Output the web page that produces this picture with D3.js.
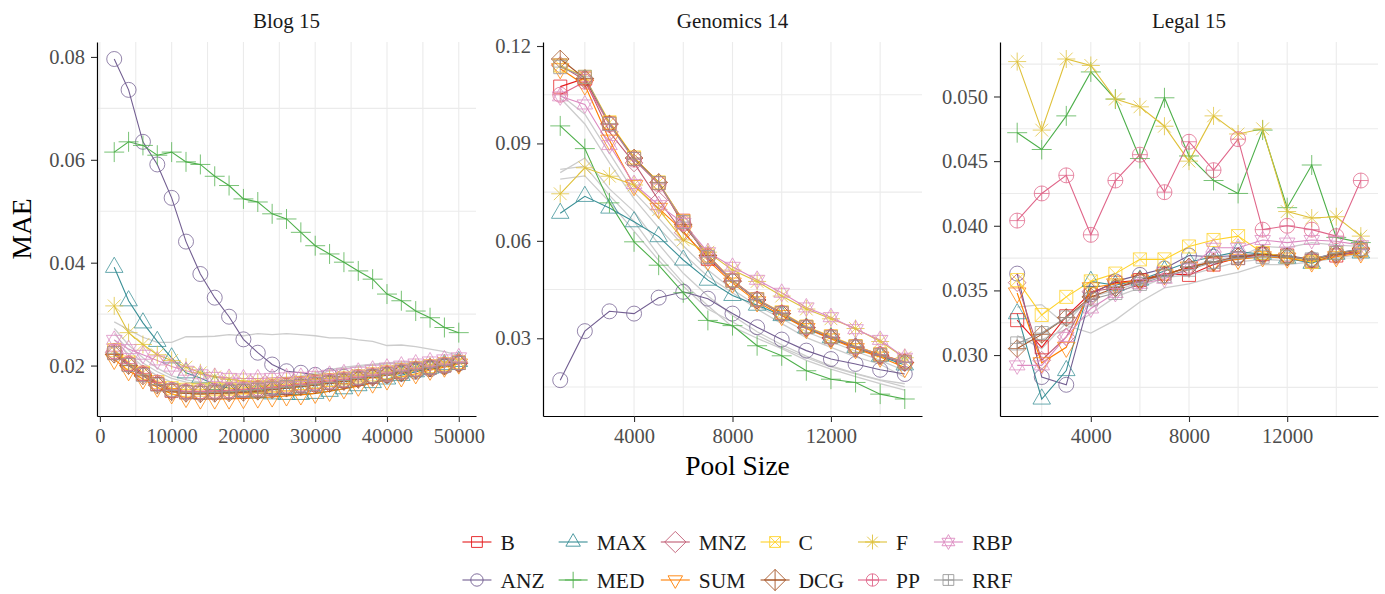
<!DOCTYPE html>
<html>
<head>
<meta charset="utf-8">
<script src="https://cdn.jsdelivr.net/npm/d3@7/dist/d3.min.js"></script>
<style>
  body { margin: 0; background: #fff; }
  text { font-family: "Liberation Serif", "DejaVu Serif", serif; }
</style>
</head>
<body>
<svg id="chart" width="1385" height="594"></svg>
<script>
// methods, in legend order (column-wise fill)
var methods = ["B", "ANZ", "MAX", "MED", "MNZ", "SUM", "C", "DCG", "F", "PP", "RBP", "RRF"];
var methodColors = ["#e41a1c", "#725e91", "#3a8f96", "#4daf4a", "#bf5b74", "#ff7f00",
                    "#ffd22a", "#a65628", "#dfc13a", "#e0668a", "#dc8bc1", "#999999"];
var methodShapes = ["square", "circle", "triUp", "plus", "diamond", "triDown",
                    "squareX", "diamondPlus", "asterisk", "circlePlus", "star", "squarePlus"];

/* ---- Blog 15 ---- */
var blogPool = [2000, 4000, 6000, 8000, 10000, 12000, 14000, 16000, 18000, 20000, 22000, 24000, 26000,
                28000, 30000, 32000, 34000, 36000, 38000, 40000, 42000, 44000, 46000, 48000, 50000];
var blogB   = [0.0225,0.0202,0.0183,0.0164,0.0151,0.0148,0.0147,0.0148,0.0149,0.0150,0.0152,0.0154,0.0157,0.0160,0.0163,0.0166,0.0170,0.0174,0.0178,0.0183,0.0187,0.0192,0.0196,0.0200,0.0205];
var blogANZ = [0.0796,0.0736,0.0635,0.0591,0.0526,0.0441,0.0378,0.0332,0.0295,0.0251,0.0225,0.0202,0.0189,0.0186,0.0182,0.0180,0.0178,0.0178,0.0179,0.0181,0.0184,0.0188,0.0193,0.0198,0.0204];
var blogMAX = [0.0391,0.0326,0.0283,0.0247,0.0215,0.0186,0.0176,0.0163,0.0156,0.0150,0.0147,0.0145,0.0144,0.0144,0.0146,0.0150,0.0155,0.0161,0.0167,0.0174,0.0181,0.0188,0.0195,0.0202,0.0208];
var blogMED = [0.0615,0.0635,0.0628,0.0609,0.0615,0.0596,0.0591,0.0568,0.0550,0.0524,0.0518,0.0495,0.0485,0.0459,0.0433,0.0417,0.0401,0.0384,0.0368,0.0339,0.0326,0.0306,0.0293,0.0274,0.0264];
var blogMNZ = [0.0226,0.0203,0.0184,0.0165,0.0152,0.0149,0.0148,0.0149,0.0150,0.0152,0.0154,0.0156,0.0159,0.0162,0.0165,0.0168,0.0171,0.0175,0.0179,0.0184,0.0188,0.0193,0.0197,0.0201,0.0206];
var blogSUM = [0.0212,0.0190,0.0174,0.0158,0.0145,0.0138,0.0135,0.0135,0.0135,0.0136,0.0137,0.0139,0.0141,0.0143,0.0146,0.0150,0.0155,0.0160,0.0166,0.0172,0.0178,0.0184,0.0191,0.0197,0.0203];
var blogC   = [0.0230,0.0206,0.0186,0.0168,0.0156,0.0153,0.0153,0.0154,0.0155,0.0157,0.0159,0.0161,0.0163,0.0166,0.0169,0.0172,0.0175,0.0179,0.0183,0.0187,0.0191,0.0195,0.0199,0.0203,0.0207];
var blogDCG = [0.0222,0.0200,0.0180,0.0162,0.0149,0.0146,0.0145,0.0146,0.0147,0.0148,0.0150,0.0153,0.0156,0.0159,0.0162,0.0165,0.0169,0.0173,0.0177,0.0182,0.0186,0.0191,0.0195,0.0199,0.0204];
var blogF   = [0.0316,0.0264,0.0241,0.0221,0.0210,0.0197,0.0186,0.0178,0.0173,0.0170,0.0168,0.0168,0.0169,0.0171,0.0173,0.0175,0.0178,0.0181,0.0185,0.0189,0.0192,0.0196,0.0200,0.0204,0.0208];
var blogPP  = [0.0228,0.0204,0.0185,0.0167,0.0153,0.0150,0.0150,0.0151,0.0152,0.0154,0.0156,0.0158,0.0161,0.0164,0.0167,0.0170,0.0173,0.0177,0.0181,0.0185,0.0189,0.0193,0.0197,0.0201,0.0206];
var blogRBP = [0.0250,0.0232,0.0221,0.0210,0.0198,0.0190,0.0183,0.0178,0.0176,0.0175,0.0175,0.0176,0.0177,0.0178,0.0180,0.0182,0.0185,0.0188,0.0192,0.0196,0.0200,0.0204,0.0208,0.0212,0.0216];
var blogRRF = [0.0224,0.0201,0.0182,0.0163,0.0152,0.0148,0.0147,0.0148,0.0149,0.0151,0.0153,0.0155,0.0158,0.0161,0.0164,0.0167,0.0171,0.0175,0.0179,0.0183,0.0188,0.0192,0.0196,0.0200,0.0205];
// unlabelled grey runs
var blogGray1 = [0.0285,0.0270,0.0255,0.0245,0.0245,0.0256,0.0256,0.0257,0.0260,0.0258,0.0262,0.0260,0.0262,0.0260,0.0258,0.0254,0.0254,0.0250,0.0247,0.0239,0.0240,0.0237,0.0232,0.0227,0.0220];
var blogGray2 = [0.0272,0.0240,0.0215,0.0195,0.0180,0.0172,0.0168,0.0166,0.0166,0.0167,0.0169,0.0172,0.0175,0.0180,0.0186,0.0192,0.0197,0.0200,0.0203,0.0205,0.0207,0.0208,0.0209,0.0210,0.0211];
var blogGray3 = [0.0262,0.0230,0.0205,0.0188,0.0175,0.0168,0.0164,0.0163,0.0163,0.0164,0.0166,0.0169,0.0172,0.0177,0.0183,0.0189,0.0194,0.0198,0.0201,0.0203,0.0205,0.0206,0.0207,0.0208,0.0209];
var blogGray4 = [0.0250,0.0222,0.0198,0.0180,0.0168,0.0162,0.0159,0.0158,0.0158,0.0159,0.0161,0.0163,0.0166,0.0169,0.0173,0.0176,0.0180,0.0184,0.0188,0.0192,0.0196,0.0199,0.0202,0.0205,0.0208];

/* ---- Genomics 14 ---- */
var genPool = [1000, 2000, 3000, 4000, 5000, 6000, 7000, 8000, 9000, 10000, 11000, 12000, 13000, 14000, 15000];
var genB   = [0.1075,0.1100,0.0962,0.0853,0.0778,0.0662,0.0545,0.0478,0.0420,0.0378,0.0335,0.0305,0.0275,0.0250,0.0228];
var genANZ = [0.0171,0.0322,0.0383,0.0376,0.0425,0.0443,0.0422,0.0376,0.0334,0.0296,0.0262,0.0236,0.0221,0.0203,0.0190];
var genMAX = [0.0685,0.0737,0.0701,0.0659,0.0613,0.0541,0.0479,0.0432,0.0402,0.0370,0.0332,0.0302,0.0272,0.0245,0.0218];
var genMED = [0.0954,0.0884,0.0717,0.0597,0.0525,0.0440,0.0355,0.0339,0.0277,0.0246,0.0200,0.0174,0.0164,0.0128,0.0113];
var genMNZ = [0.1140,0.1095,0.0935,0.0840,0.0725,0.0625,0.0548,0.0476,0.0418,0.0376,0.0332,0.0300,0.0270,0.0245,0.0225];
var genSUM = [0.1130,0.1080,0.0910,0.0770,0.0700,0.0630,0.0540,0.0470,0.0412,0.0370,0.0330,0.0298,0.0268,0.0242,0.0210];
var genC   = [0.1140,0.1105,0.0965,0.0857,0.0780,0.0660,0.0555,0.0478,0.0420,0.0380,0.0336,0.0306,0.0276,0.0250,0.0227];
var genDCG = [0.1160,0.1100,0.0960,0.0855,0.0780,0.0650,0.0555,0.0476,0.0418,0.0376,0.0333,0.0302,0.0273,0.0248,0.0226];
var genF   = [0.0745,0.0825,0.0799,0.0772,0.0696,0.0603,0.0565,0.0510,0.0475,0.0430,0.0390,0.0360,0.0330,0.0290,0.0240];
var genPP  = [0.1050,0.1090,0.0958,0.0850,0.0775,0.0655,0.0552,0.0478,0.0420,0.0378,0.0334,0.0304,0.0274,0.0249,0.0226];
var genRBP = [0.1045,0.1020,0.0895,0.0775,0.0710,0.0655,0.0565,0.0520,0.0480,0.0440,0.0395,0.0365,0.0328,0.0295,0.0240];
var genRRF = [0.1135,0.1105,0.0960,0.0852,0.0778,0.0658,0.0550,0.0477,0.0419,0.0377,0.0334,0.0303,0.0274,0.0248,0.0226];
var genGray1 = [0.0810,0.0855,0.0760,0.0690,0.0590,0.0500,0.0430,0.0370,0.0320,0.0280,0.0245,0.0215,0.0192,0.0172,0.0160];
var genGray2 = [0.0820,0.0830,0.0740,0.0660,0.0555,0.0470,0.0400,0.0335,0.0300,0.0268,0.0232,0.0205,0.0182,0.0160,0.0140];
var genGray3 = [0.0790,0.0800,0.0720,0.0630,0.0540,0.0460,0.0390,0.0350,0.0310,0.0272,0.0240,0.0212,0.0190,0.0170,0.0150];
var genGray4 = [0.1050,0.0990,0.0870,0.0750,0.0670,0.0585,0.0510,0.0450,0.0400,0.0360,0.0320,0.0290,0.0260,0.0232,0.0200];
var genGray5 = [0.1040,0.0960,0.0840,0.0730,0.0640,0.0560,0.0490,0.0440,0.0390,0.0345,0.0302,0.0272,0.0243,0.0220,0.0180];

/* ---- Legal 15 ---- */
var legalPool = [1000, 2000, 3000, 4000, 5000, 6000, 7000, 8000, 9000, 10000, 11000, 12000, 13000, 14000, 15000];
var legalB   = [0.0327,0.0306,0.0330,0.0348,0.0356,0.0358,0.0363,0.0362,0.0370,0.0375,0.0378,0.0377,0.0373,0.0377,0.0381];
var legalANZ = [0.0363,0.0283,0.0277,0.0347,0.0357,0.0362,0.0367,0.0377,0.0376,0.0377,0.0378,0.0377,0.0374,0.0379,0.0382];
var legalMAX = [0.0332,0.0266,0.0288,0.0357,0.0354,0.0358,0.0365,0.0372,0.0376,0.0380,0.0378,0.0375,0.0371,0.0378,0.0379];
var legalMED = [0.0472,0.0459,0.0485,0.0519,0.0498,0.0452,0.0499,0.0454,0.0435,0.0425,0.0474,0.0414,0.0447,0.0391,0.0387];
var legalMNZ = [0.0356,0.0296,0.0314,0.0349,0.0352,0.0357,0.0362,0.0368,0.0372,0.0376,0.0377,0.0376,0.0373,0.0377,0.0380];
var legalSUM = [0.0348,0.0294,0.0306,0.0352,0.0355,0.0358,0.0362,0.0368,0.0372,0.0374,0.0376,0.0375,0.0372,0.0376,0.0379];
var legalC   = [0.0358,0.0331,0.0345,0.0357,0.0363,0.0374,0.0374,0.0384,0.0389,0.0392,0.0379,0.0376,0.0372,0.0379,0.0381];
var legalDCG = [0.0305,0.0316,0.0329,0.0345,0.0352,0.0358,0.0362,0.0368,0.0372,0.0376,0.0378,0.0376,0.0374,0.0378,0.0382];
var legalF   = [0.0527,0.0474,0.0529,0.0524,0.0498,0.0492,0.0477,0.0450,0.0485,0.0471,0.0475,0.0411,0.0406,0.0407,0.0392];
var legalPP  = [0.0404,0.0425,0.0439,0.0393,0.0435,0.0455,0.0426,0.0465,0.0443,0.0467,0.0397,0.0400,0.0397,0.0392,0.0435];
var legalRBP = [0.0292,0.0292,0.0314,0.0336,0.0348,0.0355,0.0359,0.0367,0.0383,0.0383,0.0389,0.0387,0.0389,0.0388,0.0385];
var legalRRF = [0.0309,0.0317,0.0329,0.0343,0.0348,0.0355,0.0361,0.0366,0.0372,0.0375,0.0376,0.0376,0.0374,0.0379,0.0382];
var legalGray1 = [0.0337,0.0339,0.0323,0.0317,0.0327,0.0341,0.0352,0.0355,0.0360,0.0364,0.0370,0.0370,0.0372,0.0375,0.0378];
var legalGray2 = [0.0310,0.0312,0.0320,0.0332,0.0345,0.0352,0.0360,0.0362,0.0367,0.0372,0.0374,0.0373,0.0374,0.0377,0.0380];
var legalGray3 = [0.0315,0.0305,0.0325,0.0345,0.0350,0.0356,0.0362,0.0368,0.0374,0.0376,0.0384,0.0383,0.0387,0.0385,0.0384];

// tick values
var blogXTicks = [0, 10000, 20000, 30000, 40000, 50000];
var blogXMinor = [5000, 15000, 25000, 35000, 45000];
var blogYTicks = [0.02, 0.04, 0.06, 0.08];
var blogYMinor = [0.03, 0.05, 0.07];
var genXTicks = [4000, 8000, 12000];
var genXMinor = [2000, 6000, 10000, 14000];
var genYTicks = [0.03, 0.06, 0.09, 0.12];
var genYMinor = [0.015, 0.045, 0.075, 0.105];
var legalXTicks = [4000, 8000, 12000];
var legalXMinor = [2000, 6000, 10000, 14000];
var legalYTicks = [0.030, 0.035, 0.040, 0.045, 0.050];
var legalYMinor = [0.0275, 0.0325, 0.0375, 0.0425, 0.0475, 0.0525];

var panels = [
  { title: "Blog 15", pool: blogPool, left: 97, right: 476,
    series: [blogB, blogANZ, blogMAX, blogMED, blogMNZ, blogSUM, blogC, blogDCG, blogF, blogPP, blogRBP, blogRRF],
    gray: [blogGray1, blogGray2, blogGray3, blogGray4],
    xTicks: blogXTicks, xMinor: blogXMinor, yTicks: blogYTicks, yMinor: blogYMinor, yFmt: ".2f" },
  { title: "Genomics 14", pool: genPool, left: 543, right: 922,
    series: [genB, genANZ, genMAX, genMED, genMNZ, genSUM, genC, genDCG, genF, genPP, genRBP, genRRF],
    gray: [genGray1, genGray2, genGray3, genGray4, genGray5],
    xTicks: genXTicks, xMinor: genXMinor, yTicks: genYTicks, yMinor: genYMinor, yFmt: ".2f" },
  { title: "Legal 15", pool: legalPool, left: 1000, right: 1378,
    series: [legalB, legalANZ, legalMAX, legalMED, legalMNZ, legalSUM, legalC, legalDCG, legalF, legalPP, legalRBP, legalRRF],
    gray: [legalGray1, legalGray2, legalGray3],
    xTicks: legalXTicks, xMinor: legalXMinor, yTicks: legalYTicks, yMinor: legalYMinor, yFmt: ".3f" }
];

var plotTop = 42, plotBottom = 416;
var svg = d3.select("#chart");

// ggplot-style 5% expansion
function expand(ext) {
  var pad = (ext[1] - ext[0]) * 0.05;
  return [ext[0] - pad, ext[1] + pad];
}

// open point shapes (roughly ggplot pch 0..12)
function shapePath(name, s, diaScale) {
  var p = d3.path();
  var ds = diaScale || 1;
  function sq(r) { p.rect(-r, -r, 2 * r, 2 * r); }
  function circ(r) { p.moveTo(r, 0); p.arc(0, 0, r, 0, 2 * Math.PI); }
  function plus(a) { p.moveTo(-a, 0); p.lineTo(a, 0); p.moveTo(0, -a); p.lineTo(0, a); }
  function cross(a) { p.moveTo(-a, -a); p.lineTo(a, a); p.moveTo(-a, a); p.lineTo(a, -a); }
  function dia(a) { p.moveTo(0, -a); p.lineTo(a, 0); p.lineTo(0, a); p.lineTo(-a, 0); p.closePath(); }
  function tri(R, dir) {
    p.moveTo(0, -R * dir); p.lineTo(R * 0.866, R * 0.5 * dir); p.lineTo(-R * 0.866, R * 0.5 * dir); p.closePath();
  }
  switch (name) {
    case "square": sq(s * 0.87); break;
    case "circle": circ(s); break;
    case "triUp": tri(s * 1.35, 1); break;
    case "plus": plus(s * 1.33); break;
    case "diamond": dia(s * 1.18 * ds); break;
    case "triDown": tri(s * 1.35, -1); break;
    case "squareX": sq(s * 0.87); cross(s * 0.87); break;
    case "diamondPlus": dia(s * 1.18 * ds); plus(s * 1.18 * ds); break;
    case "asterisk": plus(s * 1.2); cross(s * 0.85); break;
    case "circlePlus": circ(s); plus(s); break;
    case "star": tri(s * 1.2, 1); tri(s * 1.2, -1); break;
    case "squarePlus": sq(s * 0.87); plus(s * 0.87); break;
  }
  return p.toString();
}

panels.forEach(function(pn) {
  var all = d3.merge(pn.series.concat(pn.gray));
  var x = d3.scaleLinear().domain(expand(d3.extent(pn.pool))).range([pn.left, pn.right]);
  var y = d3.scaleLinear().domain(expand(d3.extent(all))).range([plotBottom, plotTop]);
  var g = svg.append("g");

  // grid: vertical major+minor, horizontal minor only
  g.selectAll(".vgrid").data(pn.xTicks.concat(pn.xMinor).filter(function(v) {
      return v >= x.domain()[0] && v <= x.domain()[1]; }))
    .enter().append("line")
    .attr("x1", function(d) { return x(d); }).attr("x2", function(d) { return x(d); })
    .attr("y1", plotTop).attr("y2", plotBottom)
    .attr("stroke", "#ebebeb").attr("stroke-width", 1.1);
  g.selectAll(".hgrid").data(pn.yMinor.filter(function(v) {
      return v >= y.domain()[0] && v <= y.domain()[1]; }))
    .enter().append("line")
    .attr("x1", pn.left).attr("x2", pn.right)
    .attr("y1", function(d) { return y(d); }).attr("y2", function(d) { return y(d); })
    .attr("stroke", "#ebebeb").attr("stroke-width", 1.1);

  var line = d3.line()
    .x(function(d, i) { return x(pn.pool[i]); })
    .y(function(d) { return y(d); });

  // grey runs
  pn.gray.forEach(function(vals) {
    g.append("path").attr("d", line(vals))
      .attr("fill", "none").attr("stroke", "#cccccc").attr("stroke-width", 1.3);
  });

  // coloured lines
  pn.series.forEach(function(vals, k) {
    g.append("path").attr("d", line(vals))
      .attr("fill", "none").attr("stroke", methodColors[k]).attr("stroke-width", 1.1);
  });

  // points
  pn.series.forEach(function(vals, k) {
    g.selectAll(null).data(vals).enter().append("path")
      .attr("transform", function(d, i) { return "translate(" + x(pn.pool[i]) + "," + y(d) + ")"; })
      .attr("d", shapePath(methodShapes[k], 7.5))
      .attr("fill", "none")
      .attr("stroke", methodColors[k])
      .attr("stroke-width", 0.9)
      .attr("stroke-opacity", 0.85);
  });

  // axes
  var xAxis = g.append("g")
    .attr("transform", "translate(0," + plotBottom + ")")
    .call(d3.axisBottom(x).tickValues(pn.xTicks).tickFormat(d3.format("d")).tickSize(6).tickSizeOuter(0).tickPadding(6));
  var yAxis = g.append("g")
    .attr("transform", "translate(" + pn.left + ",0)")
    .call(d3.axisLeft(y).tickValues(pn.yTicks).tickFormat(d3.format(pn.yFmt)).tickSize(6).tickSizeOuter(0).tickPadding(6));
  [xAxis, yAxis].forEach(function(a) {
    a.select(".domain").attr("stroke", "#000").attr("stroke-width", 1.2);
    a.selectAll(".tick line").attr("stroke", "#333").attr("stroke-width", 1.1);
    a.selectAll(".tick text").attr("fill", "#4d4d4d")
      .style("font-family", "'Liberation Serif', serif").style("font-size", "20.5px");
  });

  // strip title
  svg.append("text")
    .attr("x", (pn.left + pn.right) / 2).attr("y", 28)
    .attr("text-anchor", "middle")
    .style("font-size", "21px").attr("fill", "#1a1a1a")
    .text(pn.title);
});

// axis titles
svg.append("text")
  .attr("x", (panels[0].left + panels[2].right) / 2).attr("y", 475)
  .attr("text-anchor", "middle").style("font-size", "27.5px")
  .text("Pool Size");
svg.append("text")
  .attr("transform", "translate(31," + (plotTop + plotBottom) / 2 + ") rotate(-90)")
  .attr("text-anchor", "middle").style("font-size", "27.5px")
  .text("MAE");

// legend: 2 rows, filled column by column
var legend = svg.append("g");
var rowY = [542, 580];
var keyW = 29, gap = 9, colPad = 14;
var items = legend.selectAll(".item").data(methods).enter().append("g");
items.append("line")
  .attr("x1", 0).attr("x2", keyW).attr("y1", 0).attr("y2", 0)
  .attr("stroke", function(d, i) { return methodColors[i]; }).attr("stroke-width", 1.1);
items.append("path")
  .attr("transform", "translate(" + keyW / 2 + ",0)")
  .attr("d", function(d, i) { return shapePath(methodShapes[i], 6.2, 1.45); })
  .attr("fill", "none")
  .attr("stroke", function(d, i) { return methodColors[i]; })
  .attr("stroke-width", 0.9);
items.append("text")
  .attr("x", keyW + gap).attr("y", 7.5)
  .style("font-size", "21.5px").attr("fill", "#1a1a1a")
  .text(function(d) { return d; });

var widths = [];
items.each(function() { widths.push(d3.select(this).select("text").node().getComputedTextLength()); });
var nCol = Math.ceil(methods.length / 2), colX = [], cx = 0;
for (var c = 0; c < nCol; c++) {
  colX.push(cx);
  cx += keyW + gap + Math.max(widths[2 * c], widths[2 * c + 1] || 0) + colPad;
}
var legendLeft = (panels[0].left + panels[2].right) / 2 - (cx - colPad) / 2;
items.attr("transform", function(d, i) {
  return "translate(" + (legendLeft + colX[Math.floor(i / 2)]) + "," + rowY[i % 2] + ")";
});
</script>
</body>
</html>
